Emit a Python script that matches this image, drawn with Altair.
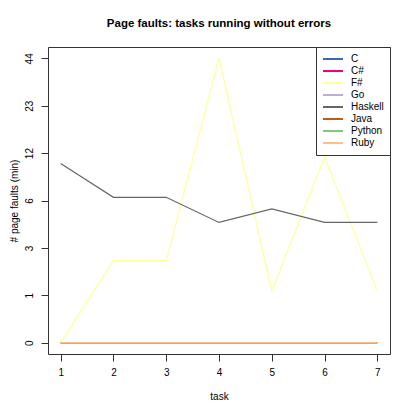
import altair as alt
import pandas as pd
import math

tasks = [1, 2, 3, 4, 5, 6, 7]
languages = ["C", "C#", "F#", "Go", "Haskell", "Java", "Python", "Ruby"]
colors = ["#386CB0", "#F0027F", "#FFFF99", "#BEAED4", "#666666", "#BF5B17", "#7FC97F", "#FDC086"]
values = {
    "C": [0, 0, 0, 0, 0, 0, 0],
    "C#": [0, 0, 0, 0, 0, 0, 0],
    "F#": [0, 2, 2, 44, 1, 11, 1],
    "Go": [0, 0, 0, 0, 0, 0, 0],
    "Haskell": [10, 6, 6, 4, 5, 4, 4],
    "Java": [0, 0, 0, 0, 0, 0, 0],
    "Python": [0, 0, 0, 0, 0, 0, 0],
    "Ruby": [0, 0, 0, 0, 0, 0, 0],
}
ymax = 44
tick_vals = [math.exp(k * math.log1p(ymax) / 6) - 1 for k in range(7)]

rows = []
for i, lang in enumerate(languages):
    for t, v in zip(tasks, values[lang]):
        rows.append({"task": t, "faults": v, "lang": lang, "ord": i})
df = pd.DataFrame(rows)

lo = math.log1p(ymax)
ext = lo * 0.04
ydom = [-(math.exp(ext) - 1), math.exp(lo + ext) - 1]

FONT = "Liberation Sans"

chart = alt.Chart(df).mark_line(strokeWidth=1.2).encode(
    x=alt.X("task:Q", scale=alt.Scale(domain=[0.76, 7.24], nice=False, zero=False),
            axis=alt.Axis(values=tasks, title="task", format="d", labelPadding=6, titlePadding=14)),
    y=alt.Y("faults:Q", scale=alt.Scale(type="symlog", constant=1, domain=ydom, nice=False, zero=False),
            axis=alt.Axis(values=tick_vals, labelExpr="format(round(datum.value), 'd')",
                          title="# page faults (min)", labelAngle=270, labelAlign="center",
                          labelBaseline="bottom", labelPadding=7, titlePadding=5)),
    color=alt.Color("lang:N", scale=alt.Scale(domain=languages, range=colors),
                    legend=alt.Legend(title=None, orient="top-right", offset=0,
                                      symbolType="stroke", symbolSize=400, symbolStrokeWidth=2,
                                      labelFontSize=10, labelFont=FONT, rowPadding=0,
                                      clipHeight=11.9,
                                      labelOffset=7, labelColor="black",
                                      padding=6, strokeColor="#333333", fillColor="white",
                                      cornerRadius=0)),
    order=alt.Order("ord:Q"),
    detail="lang:N",
).properties(
    width=342, height=307,
    title=alt.TitleParams("Page faults: tasks running without errors", fontSize=11.5,
                          font=FONT, fontWeight="bold", anchor="middle", offset=17),
    autosize=alt.AutoSizeParams(type="none"),
    padding={"left": 40, "top": 39, "right": 17, "bottom": 53},
).configure_view(stroke="#333333", strokeWidth=1).configure_axis(
    grid=False, domain=False, tickColor="#333333", tickSize=7, labelFont=FONT, titleFont=FONT,
    labelFontSize=10, titleFontSize=10, titleFontWeight="normal", labelColor="black",
    titleColor="black", labelFlush=False, labelOverlap=False,
)

chart.save("out.html", embed_options={"renderer": "svg", "actions": False})
